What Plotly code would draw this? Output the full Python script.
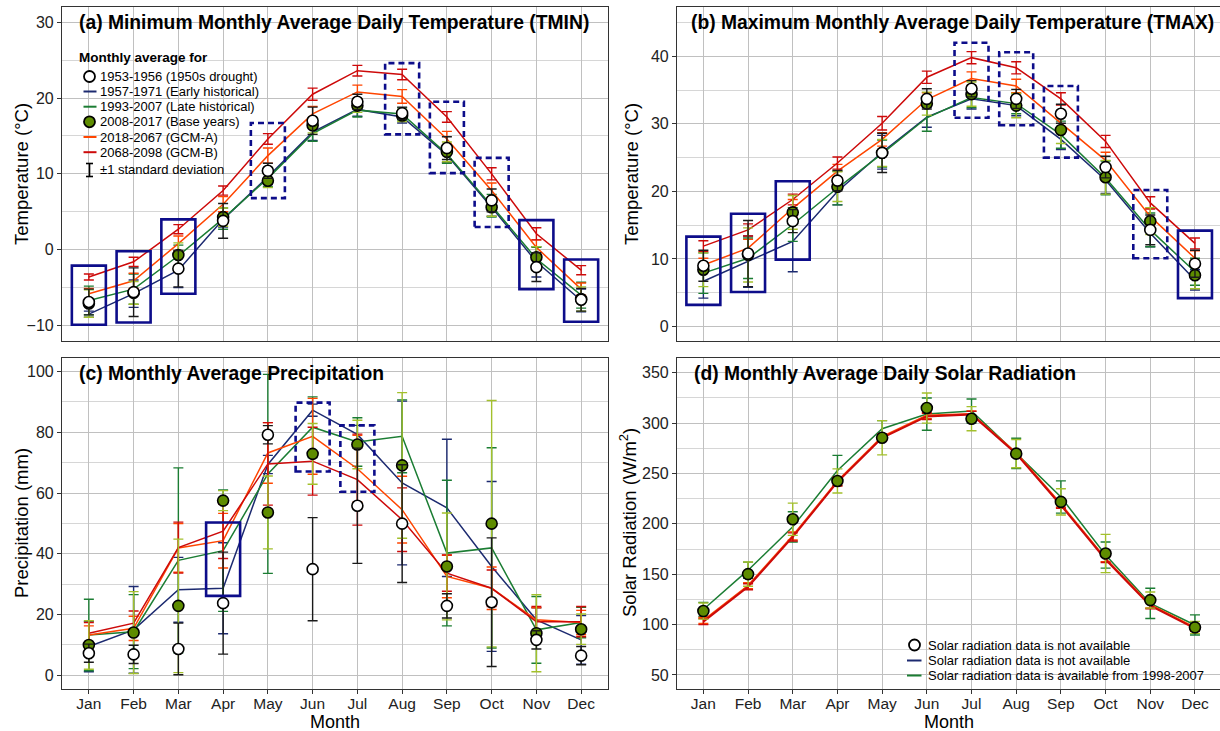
import plotly.graph_objects as go

W, H = 1220, 731

months = ["Jan", "Feb", "Mar", "Apr", "May", "Jun", "Jul", "Aug", "Sep", "Oct", "Nov", "Dec"]
mnum = list(range(1, 13))

# ---------------- (a) TMIN ----------------
tmin_1953 = [-6.9, -5.6, -2.5, 3.8, 10.4, 17.0, 19.5, 18.0, 13.4, 6.5, -2.3, -6.6]
tmin_1957 = [-8.5, -5.8, -2.7, 4.0, 9.6, 15.5, 18.5, 17.5, 12.5, 5.6, -1.6, -6.7]
tmin_1993 = [-6.7, -5.2, -0.8, 4.1, 9.4, 15.3, 18.4, 17.9, 12.6, 5.8, -1.2, -6.0]
tmin_2008 = [-7.1, -5.7, -0.7, 4.3, 9.1, 16.4, 19.0, 17.7, 12.9, 5.6, -1.0, -6.5]
tmin_gcma = [-5.8, -4.1, 0.8, 6.0, 12.4, 17.9, 20.8, 20.2, 14.6, 7.8, 0.3, -5.2]
tmin_gcmb = [-3.6, -1.6, 2.7, 7.8, 14.6, 20.5, 23.6, 23.1, 17.5, 10.0, 2.1, -2.7]
tmin_1953_sd = [1.7, 3.2, 2.4, 2.3, 1.0, 1.8, 1.0, 0.8, 1.5, 1.5, 1.9, 1.5]
tmin_1957_sd = [0.4, 1.8, 2.3, 1.0, 1.0, 1.1, 0.9, 0.8, 1.0, 1.2, 2.0, 1.5]
tmin_1993_sd = [1.9, 2.0, 1.4, 1.4, 1.1, 1.0, 0.9, 0.8, 1.2, 1.5, 1.5, 1.7]
tmin_2008_sd = [1.8, 1.5, 1.6, 1.2, 0.9, 1.0, 0.9, 0.8, 1.3, 1.2, 1.4, 1.6]
tmin_gcma_sd = [0.7, 1.0, 1.0, 1.0, 1.0, 1.0, 0.9, 0.9, 1.0, 1.0, 1.0, 0.8]
tmin_gcmb_sd = [0.4, 0.6, 0.6, 0.6, 0.7, 0.8, 0.7, 0.7, 0.7, 0.8, 0.8, 0.6]

# ---------------- (b) TMAX ----------------
tmax_1953 = [9.0, 10.8, 15.6, 21.6, 25.7, 33.7, 35.2, 33.7, 31.5, 23.6, 14.3, 9.3]
tmax_1957 = [6.7, 9.6, 12.6, 20.0, 25.8, 31.0, 33.7, 32.7, 27.7, 21.7, 13.8, 6.9]
tmax_1993 = [7.9, 10.1, 15.1, 20.5, 25.6, 30.9, 33.9, 33.0, 28.4, 22.0, 14.3, 8.1]
tmax_2008 = [8.4, 10.6, 16.9, 20.7, 25.7, 33.0, 34.4, 32.7, 29.1, 22.1, 15.6, 7.6]
tmax_gcma = [9.1, 11.6, 17.5, 23.0, 27.7, 33.6, 36.7, 35.6, 30.1, 24.6, 16.3, 10.1]
tmax_gcmb = [11.9, 14.3, 18.8, 24.2, 30.1, 36.9, 39.8, 38.3, 33.7, 27.4, 18.3, 12.3]
tmax_1953_sd = [2.3, 4.9, 1.7, 1.5, 2.9, 1.5, 1.2, 1.4, 1.4, 1.6, 2.2, 2.0]
tmax_1957_sd = [2.5, 3.8, 4.5, 2.0, 2.5, 1.5, 1.5, 1.5, 1.5, 2.0, 2.0, 1.5]
tmax_1993_sd = [3.0, 3.0, 2.5, 2.5, 2.0, 2.0, 1.5, 1.5, 2.0, 2.5, 2.5, 2.0]
tmax_2008_sd = [2.5, 4.0, 2.5, 2.2, 2.0, 1.7, 1.8, 1.8, 2.0, 2.5, 2.0, 2.0]
tmax_gcma_sd = [1.0, 1.3, 1.3, 1.0, 1.0, 1.0, 1.0, 1.0, 1.2, 1.2, 1.2, 1.1]
tmax_gcmb_sd = [0.8, 0.9, 0.8, 0.9, 1.0, 0.9, 0.9, 0.9, 0.9, 0.9, 0.9, 0.8]

# ---------------- (c) Precipitation ----------------
prcp_1953 = [7.2, 6.8, 8.6, 23.7, 79.2, 34.9, 55.8, 49.9, 22.8, 24.0, 11.6, 6.4]
prcp_1957 = [9.4, 14.9, 28.1, 28.6, 69.4, 87.3, 79.3, 63.3, 55.1, 35.8, 18.2, 11.6]
prcp_1993 = [13.2, 14.3, 37.8, 41.0, 66.3, 81.7, 76.8, 78.7, 40.2, 41.9, 14.9, 17.3]
prcp_2008 = [9.9, 14.0, 22.8, 57.5, 53.6, 72.9, 76.0, 69.1, 35.8, 49.9, 13.8, 15.1]
prcp_gcma = [13.2, 15.4, 41.9, 44.3, 73.2, 78.7, 68.0, 54.5, 32.5, 28.6, 18.2, 17.3]
prcp_gcmb = [13.8, 17.1, 42.0, 47.4, 69.6, 70.5, 64.4, 51.2, 33.6, 28.6, 17.6, 17.6]
prcp_1953_sd = [3.0, 3.0, 8.5, 16.8, 3.0, 17.0, 19.0, 19.4, 4.0, 21.2, 3.0, 3.0]
prcp_1957_sd = [8.3, 14.3, 10.7, 15.0, 3.0, 2.0, 3.0, 27.0, 22.6, 28.0, 4.0, 8.0]
prcp_1993_sd = [11.8, 12.2, 30.5, 20.0, 32.8, 10.0, 8.0, 12.0, 24.0, 33.0, 11.0, 5.0]
prcp_2008_sd = [8.0, 13.5, 22.0, 3.3, 12.0, 10.0, 8.0, 24.0, 17.6, 40.6, 12.7, 5.0]
prcp_gcma_sd = [3.0, 4.0, 8.0, 9.0, 10.0, 12.5, 11.0, 11.0, 7.0, 7.0, 4.0, 4.0]
prcp_gcmb_sd = [3.5, 4.0, 8.4, 9.0, 13.6, 11.2, 15.0, 10.5, 6.0, 6.0, 5.0, 5.0]

# ---------------- (d) Solar radiation ----------------
srad_1993 = [115.0, 154.0, 197.0, 253.0, 294.5, 309.0, 312.0, 270.0, 226.7, 169.0, 121.0, 99.6]
srad_2008 = [113.4, 150.1, 204.6, 242.6, 285.5, 315.0, 304.4, 269.7, 221.8, 170.6, 124.3, 97.2]
srad_gcma = [104.0, 138.5, 188.0, 242.5, 286.5, 307.5, 309.0, 270.5, 219.5, 165.5, 119.5, 97.0]
srad_gcmb = [102.9, 137.5, 187.0, 241.6, 285.5, 306.7, 308.7, 269.7, 218.5, 164.6, 118.7, 96.3]
srad_1993_sd = [7.0, 8.0, 15.0, 15.0, 8.0, 16.0, 12.0, 15.0, 16.0, 13.0, 15.0, 10.0]
srad_2008_sd = [8.0, 12.0, 16.0, 12.0, 17.0, 15.0, 12.0, 14.0, 13.0, 19.0, 8.0, 6.0]
srad_gcma_sd = [3.0, 3.0, 4.0, 4.0, 3.0, 3.0, 3.0, 3.0, 3.0, 3.0, 3.0, 3.0]
srad_gcmb_sd = [3.0, 3.0, 4.0, 4.0, 3.0, 3.0, 3.0, 3.0, 3.0, 3.0, 3.0, 3.0]

# ---------------- highlight boxes ----------------
box_a_month = [1, 2, 3, 5, 8, 9, 10, 11, 12]
box_a_lo = [-9.9, -9.6, -5.8, 6.8, 15.2, 10.1, 3.0, -5.2, -9.5]
box_a_hi = [-2.1, -0.2, 4.0, 16.7, 24.6, 19.5, 12.1, 3.9, -1.3]
box_a_dash = [False, False, False, True, True, True, True, False, False]

box_b_month = [1, 2, 3, 7, 8, 9, 11, 12]
box_b_lo = [3.2, 5.1, 9.9, 30.9, 29.8, 25.0, 10.1, 4.2]
box_b_hi = [13.3, 16.7, 21.5, 42.0, 40.6, 35.6, 20.2, 14.2]
box_b_dash = [False, False, False, True, True, True, True, False]

box_c_month = [4, 6, 7]
box_c_lo = [26.1, 67.1, 60.4]
box_c_hi = [50.3, 89.8, 82.3]
box_c_dash = [False, True, True]

legend_a_labels = ["1953-1956 (1950s drought)", "1957-1971 (Early historical)",
                   "1993-2007 (Late historical)", "2008-2017 (Base years)",
                   "2018-2067 (GCM-A)", "2068-2098 (GCM-B)", "±1 standard deviation"]
legend_d_labels = ["Solar radiation data is not available",
                   "Solar radiation data is not available",
                   "Solar radiation data is available from 1998-2007"]

# ---------------- styling ----------------
FONT = "Liberation Sans, Arial, Helvetica, sans-serif"
NAVY = "#1c2a70"
GREEN = "#1b7d33"
OLIVE = "#5e8c00"
OLIVE_ERR = "#a3c02c"
ORANGE = "#ff4500"
RED = "#cd0a0a"
BLACK = "#1a1a1a"
BOXC = "#0d0d8a"


def px(x):
    return x / W


def py(y):
    return 1 - y / H


fig = go.Figure()


def add_line(ax, y, sd, color, errcolor=None, width=1.5):
    fig.add_trace(go.Scatter(
        x=mnum, y=y, mode="lines", line=dict(color=color, width=width),
        error_y=dict(type="data", array=sd, visible=True, color=errcolor or color,
                     thickness=1.4, width=5),
        xaxis="x" + ax, yaxis="y" + ax, showlegend=False, hoverinfo="skip"))


def add_pts(ax, y, sd, fill, errcolor):
    fig.add_trace(go.Scatter(
        x=mnum, y=y, mode="markers",
        marker=dict(size=11, color=fill, line=dict(color="black", width=1.6)),
        error_y=dict(type="data", array=sd, visible=True, color=errcolor,
                     thickness=1.4, width=5),
        xaxis="x" + ax, yaxis="y" + ax, showlegend=False, hoverinfo="skip"))


def panel(ax, s1953, s1957, s1993, s2008, sa, sb, d1953, d1957, d1993, d2008, da, db):
    add_line(ax, s1957, d1957, NAVY)
    add_line(ax, s1993, d1993, GREEN)
    add_line(ax, sa, da, ORANGE)
    add_line(ax, sb, db, RED)
    add_pts(ax, s2008, d2008, OLIVE, OLIVE_ERR)
    add_pts(ax, s1953, d1953, "white", BLACK)


panel("", tmin_1953, tmin_1957, tmin_1993, tmin_2008, tmin_gcma, tmin_gcmb,
      tmin_1953_sd, tmin_1957_sd, tmin_1993_sd, tmin_2008_sd, tmin_gcma_sd, tmin_gcmb_sd)
panel("2", tmax_1953, tmax_1957, tmax_1993, tmax_2008, tmax_gcma, tmax_gcmb,
      tmax_1953_sd, tmax_1957_sd, tmax_1993_sd, tmax_2008_sd, tmax_gcma_sd, tmax_gcmb_sd)
panel("3", prcp_1953, prcp_1957, prcp_1993, prcp_2008, prcp_gcma, prcp_gcmb,
      prcp_1953_sd, prcp_1957_sd, prcp_1993_sd, prcp_2008_sd, prcp_gcma_sd, prcp_gcmb_sd)
# (d): solar radiation data not available for 1953-1956 / 1957-1971
add_line("4", srad_1993, srad_1993_sd, GREEN)
add_line("4", srad_gcma, srad_gcma_sd, ORANGE, width=2)
add_line("4", srad_gcmb, srad_gcmb_sd, RED, width=2)
add_pts("4", srad_2008, srad_2008_sd, OLIVE, OLIVE_ERR)

shapes = []


def add_boxes(ax, mon, lo, hi, dash):
    for m, a, b, d in zip(mon, lo, hi, dash):
        shapes.append(dict(type="rect", xref="x" + ax, yref="y" + ax,
                           x0=m - 0.38, x1=m + 0.38, y0=a, y1=b,
                           line=dict(color=BOXC, width=2.6, dash="6px,4px" if d else "solid"),
                           fillcolor="rgba(0,0,0,0)", layer="above"))


add_boxes("", box_a_month, box_a_lo, box_a_hi, box_a_dash)
add_boxes("2", box_b_month, box_b_lo, box_b_hi, box_b_dash)
add_boxes("3", box_c_month, box_c_lo, box_c_hi, box_c_dash)

annotations = []


def circle_glyph(cx, cy, fill="white", r=5.5):
    shapes.append(dict(type="circle", xref="paper", yref="paper",
                       x0=px(cx - r), x1=px(cx + r), y0=py(cy + r), y1=py(cy - r),
                       fillcolor=fill, line=dict(color="black", width=1.8), layer="above"))


def line_glyph(x0, x1, cy, color):
    shapes.append(dict(type="line", xref="paper", yref="paper",
                       x0=px(x0), x1=px(x1), y0=py(cy), y1=py(cy),
                       line=dict(color=color, width=2), layer="above"))


def text(x, y, s, size=13, bold=False, anchor="left", angle=0):
    annotations.append(dict(xref="paper", yref="paper", x=px(x), y=py(y),
                            xanchor=anchor, yanchor="middle", showarrow=False,
                            textangle=angle,
                            text="<b>%s</b>" % s if bold else s,
                            font=dict(family=FONT, size=size, color="black")))


# legend (a)
text(77, 57, "Monthly average for", size=13.5, bold=True)
leg_y = [76.5, 91.5, 106.7, 121.8, 137.0, 152.2, 170.0]
circle_glyph(89.5, leg_y[0])
line_glyph(83.5, 96.5, leg_y[1], NAVY)
line_glyph(83.5, 96.5, leg_y[2], GREEN)
circle_glyph(89.5, leg_y[3], fill=OLIVE)
line_glyph(83.5, 96.5, leg_y[4], ORANGE)
line_glyph(83.5, 96.5, leg_y[5], RED)
for yy in (leg_y[6] - 6.5, leg_y[6] + 6.5):
    shapes.append(dict(type="line", xref="paper", yref="paper", x0=px(86), x1=px(93),
                       y0=py(yy), y1=py(yy), line=dict(color="black", width=1.6)))
shapes.append(dict(type="line", xref="paper", yref="paper", x0=px(89.5), x1=px(89.5),
                   y0=py(leg_y[6] - 6.5), y1=py(leg_y[6] + 6.5), line=dict(color="black", width=1.6)))
for yy, lab in zip(leg_y, legend_a_labels):
    text(98, yy, lab)

# legend (d)
leg_d_y = [645.0, 660.5, 675.5]
circle_glyph(914.5, leg_d_y[0])
line_glyph(907, 921.5, leg_d_y[1], NAVY)
line_glyph(907, 921.5, leg_d_y[2], GREEN)
for yy, lab in zip(leg_d_y, legend_d_labels):
    text(926, yy, lab)

# panel titles
text(77, 23, "(a) Minimum Monthly Average Daily Temperature (TMIN)", size=19.3, bold=True)
text(689, 23, "(b) Maximum Monthly Average Daily Temperature (TMAX)", size=19.3, bold=True)
text(77, 373, "(c) Monthly Average Precipitation", size=19.3, bold=True)
text(692, 373, "(d) Monthly Average Daily Solar Radiation", size=19.3, bold=True)

# axis titles
text(21, 174, "Temperature (°C)", size=18.5, anchor="center", angle=-90)
text(631, 174, "Temperature (°C)", size=18.5, anchor="center", angle=-90)
text(21, 523, "Precipitation (mm)", size=18.5, anchor="center", angle=-90)
text(628, 523, "Solar Radiation (W/m<sup>2</sup>)", size=18.5, anchor="center", angle=-90)
text(335, 721.5, "Month", size=18, anchor="center")
text(949, 721.5, "Month", size=18, anchor="center")

base_axis = dict(showline=True, mirror=True, linecolor="#333333", linewidth=1.2,
                 gridcolor="#c0c0c0", gridwidth=1, zeroline=False, automargin=False,
                 tickfont=dict(family=FONT, size=16, color="#222222"))


def xax(domain, rng, bottom):
    d = dict(base_axis, domain=domain, range=rng, tickmode="array",
             tickvals=mnum, ticktext=months)
    if bottom:
        d.update(ticks="outside", ticklen=4, tickcolor="#333333", showticklabels=True,
                 ticklabelstandoff=-4, tickfont=dict(family=FONT, size=15.5, color="#222222"))
    else:
        d.update(ticks="", showticklabels=False)
    return d


def yax(domain, rng, dtick, minor, anchor):
    return dict(base_axis, domain=domain, range=rng, dtick=dtick, tick0=0,
                ticks="outside", ticklen=4, tickcolor="#333333", anchor=anchor,
                minor=dict(dtick=minor, tick0=0, showgrid=True, gridcolor="#d6d6d6",
                           gridwidth=1, ticks=""))


xl = [px(62), px(608)]
xr = [px(677), 1.0]
yt = [py(340.7), py(7)]
yb = [py(689), py(357.7)]

fig.update_layout(
    width=W, height=H, margin=dict(l=0, r=0, t=0, b=0),
    paper_bgcolor="white", plot_bgcolor="white",
    font=dict(family=FONT, color="black"),
    showlegend=False,
    xaxis=dict(xax(xl, [0.4, 12.6], False), anchor="y"),
    yaxis=yax(yt, [-12, 32], 10, 5, "x"),
    xaxis2=dict(xax(xr, [0.41, 12.56], False), anchor="y2"),
    yaxis2=yax(yt, [-2.1, 47.3], 10, 5, "x2"),
    xaxis3=dict(xax(xl, [0.4, 12.6], True), anchor="y3"),
    yaxis3=yax(yb, [-4.6, 104.6], 20, 10, "x3"),
    xaxis4=dict(xax(xr, [0.41, 12.56], True), anchor="y4"),
    yaxis4=yax(yb, [36, 365], 50, 25, "x4"),
    shapes=shapes, annotations=annotations,
)

fig.write_html("out.html")
